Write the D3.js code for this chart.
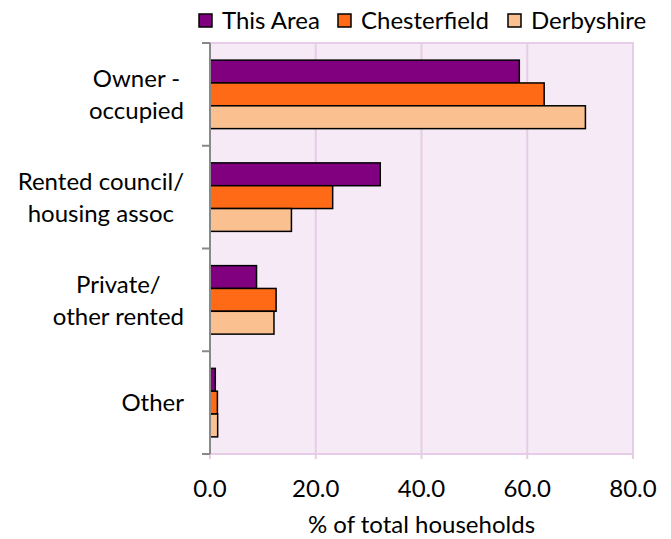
<!doctype html>
<html lang="en">
  <head>
    <meta charset="utf-8" />
    <title>Housing tenure</title>
    <script src="https://cdn.jsdelivr.net/npm/d3@7"></script>
    <style>
      body { margin: 0; background: #fff; }
      text { font-family: Lato, "Open Sans", sans-serif; fill: #000; }
    </style>
  </head>
  <body>
    <svg id="chart" width="671" height="539"></svg>
    <script>
      // categories (label lines) and series values
      const categories = [
        ['Owner -', 'occupied'],
        ['Rented council/', 'housing assoc'],
        ['Private/', 'other rented'],
        ['Other']
      ];
      const seriesNames = ['This Area', 'Chesterfield', 'Derbyshire'];
      const thisArea = [58.5, 32.2, 8.8, 1.0];
      const chesterfield = [63.2, 23.2, 12.5, 1.4];
      const derbyshire = [71.0, 15.4, 12.1, 1.45];
      const xTicks = [0, 20, 40, 60, 80];
      const colors = ['#800080', '#ff6a17', '#fac090'];

      const series = [thisArea, chesterfield, derbyshire];
      const svg = d3.select('#chart');
      const plotL = 210, plotR = 633, plotT = 43, plotB = 454;
      const fs = 24;

      const x = d3.scaleLinear().domain([0, 80]).range([plotL, plotR]);
      const y = d3.scaleBand().domain(d3.range(categories.length)).range([plotT, plotB]).padding(0);
      const inner = d3.scaleBand().domain(d3.range(series.length))
        .range([y.bandwidth() / 6, y.bandwidth() * 5 / 6]).padding(0);

      // plot background
      svg.append('rect').attr('x', plotL).attr('y', plotT)
        .attr('width', plotR - plotL).attr('height', plotB - plotT)
        .attr('fill', '#f6eaf6').attr('stroke', '#e6cce6').attr('stroke-width', 2);

      // gridlines + bottom ticks
      svg.append('g').selectAll('line').data(xTicks).join('line')
        .attr('x1', d => x(d)).attr('x2', d => x(d))
        .attr('y1', plotT).attr('y2', plotB + 5)
        .attr('stroke', '#e6cce6').attr('stroke-width', 2);
      svg.append('line').attr('x1', plotL).attr('x2', plotR).attr('y1', plotB).attr('y2', plotB)
        .attr('stroke', '#e6cce6').attr('stroke-width', 2);

      // bars
      svg.append('g').selectAll('g').data(series).join('g')
        .attr('fill', (d, i) => colors[i])
        .each(function (vals, si) {
          d3.select(this).selectAll('rect').data(vals).join('rect')
            .attr('x', x(0))
            .attr('y', (d, ci) => y(ci) + inner(si))
            .attr('width', d => x(d) - x(0))
            .attr('height', inner.bandwidth())
            .attr('stroke', '#000').attr('stroke-width', 1.5);
        });

      // left axis
      svg.append('line').attr('x1', plotL).attr('x2', plotL).attr('y1', plotT).attr('y2', plotB)
        .attr('stroke', '#888').attr('stroke-width', 2);
      svg.append('g').selectAll('line').data(d3.range(categories.length + 1)).join('line')
        .attr('x1', plotL - 8).attr('x2', plotL)
        .attr('y1', d => plotT + d * y.step()).attr('y2', d => plotT + d * y.step())
        .attr('stroke', '#888').attr('stroke-width', 2);

      // category labels: lines centred on each other, block right-aligned
      const labelG = svg.append('g').attr('font-size', fs);
      categories.forEach((lines, ci) => {
        const cy = y(ci) + y.bandwidth() / 2;
        const g = labelG.append('g');
        const t = g.selectAll('text').data(lines).join('text')
          .attr('text-anchor', 'middle')
          .attr('y', (d, i) => cy + (i - (lines.length - 1) / 2) * 32)
          .attr('dy', '0.36em')
          .text(d => d);
        const w = d3.max(t.nodes(), n => n.getComputedTextLength());
        g.attr('transform', `translate(${184 - w / 2},0)`);
      });

      // x tick labels
      svg.append('g').attr('font-size', fs).selectAll('text').data(xTicks).join('text')
        .attr('x', d => x(d)).attr('y', 497).attr('text-anchor', 'middle')
        .text(d => d3.format('.1f')(d));

      svg.append('text').attr('x', (plotL + plotR) / 2).attr('y', 533)
        .attr('text-anchor', 'middle').attr('font-size', fs)
        .text('% of total households');

      // legend
      const legendX = [199, 338, 508];
      const lg = svg.append('g').selectAll('g').data(seriesNames).join('g')
        .attr('transform', (d, i) => `translate(${legendX[i]},14)`);
      lg.append('rect').attr('width', 13).attr('height', 13)
        .attr('fill', (d, i) => colors[i]).attr('stroke', '#000').attr('stroke-width', 1.5);
      lg.append('text').attr('x', 23).attr('y', 15).attr('font-size', fs).text(d => d);
    </script>
  </body>
</html>
